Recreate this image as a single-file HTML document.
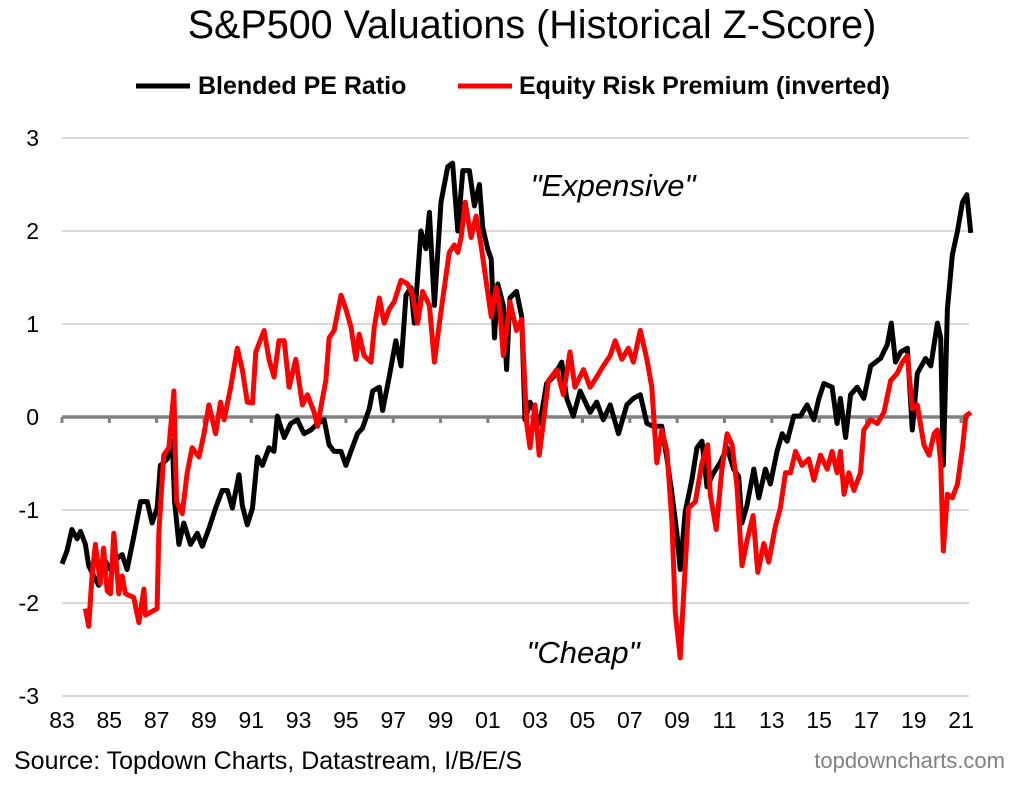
<!DOCTYPE html>
<html><head><meta charset="utf-8"><style>
body{margin:0;background:#fff;width:1020px;height:782px;overflow:hidden;font-family:"Liberation Sans",Arial,sans-serif}
svg text{font-family:"Liberation Sans",Arial,sans-serif}
</style></head><body>
<svg id="chart" width="1020" height="782">
<text x="532" y="38" text-anchor="middle" font-size="39.5" fill="#000">S&amp;P500 Valuations (Historical Z-Score)</text>
<g>
<g><line x1="136" y1="86" x2="190" y2="86" stroke="#000" stroke-width="5"/><text x="198" y="94" font-size="25" font-weight="bold">Blended PE Ratio</text></g>
<g><line x1="458" y1="86" x2="512" y2="86" stroke="#f00" stroke-width="5"/><text x="519" y="94" font-size="25" font-weight="bold">Equity Risk Premium (inverted)</text></g>
</g>
<g id="grid"></g><g id="axes"></g><g id="series"></g>
<text x="613" y="196" text-anchor="middle" font-size="31" font-style="italic">"Expensive"</text>
<text x="583" y="663" text-anchor="middle" font-size="31" font-style="italic">"Cheap"</text>
<text x="14" y="769" font-size="25">Source: Topdown Charts, Datastream, I/B/E/S</text>
<text x="1005" y="768" text-anchor="end" font-size="22" fill="#808080">topdowncharts.com</text>
</svg>
<script>
const yTicks=[3,2,1,0,-1,-2,-3];
const xTickLabels=["83","85","87","89","91","93","95","97","99","01","03","05","07","09","11","13","15","17","19","21"];
const xTickYears=[83,85,87,89,91,93,95,97,99,101,103,105,107,109,111,113,115,117,119,121];
const peYears=[83.00,83.21,83.42,83.64,83.78,83.99,84.13,84.34,84.55,84.76,85.05,85.33,85.54,85.75,86.03,86.32,86.60,86.81,87.02,87.16,87.45,87.66,87.76,87.94,88.15,88.43,88.72,88.93,89.21,89.49,89.77,89.99,90.20,90.48,90.62,90.83,91.05,91.26,91.47,91.75,91.96,92.10,92.39,92.67,92.95,93.23,93.52,93.80,94.08,94.29,94.50,94.79,95.00,95.21,95.49,95.70,95.99,96.13,96.41,96.55,96.83,97.11,97.33,97.54,97.75,97.89,98.17,98.38,98.53,98.74,99.02,99.30,99.51,99.73,99.94,100.22,100.43,100.64,100.78,100.99,101.14,101.28,101.42,101.65,101.79,101.93,102.21,102.43,102.57,102.78,102.99,103.20,103.48,103.77,104.12,104.33,104.61,104.90,105.32,105.60,105.88,106.17,106.52,106.87,107.15,107.44,107.72,108.00,108.35,108.57,108.78,108.99,109.13,109.34,109.62,109.84,110.05,110.26,110.54,110.82,111.11,111.39,111.60,111.74,111.95,112.24,112.45,112.73,112.94,113.22,113.44,113.65,113.93,114.21,114.49,114.78,114.99,115.20,115.55,115.76,115.90,116.12,116.33,116.61,116.89,117.18,117.60,117.88,118.05,118.23,118.45,118.73,118.94,119.15,119.50,119.72,120.00,120.14,120.25,120.42,120.63,120.85,121.06,121.24,121.41];
const peValues=[-1.58,-1.44,-1.21,-1.31,-1.23,-1.37,-1.6,-1.71,-1.81,-1.52,-1.64,-1.52,-1.48,-1.64,-1.29,-0.91,-0.91,-1.14,-0.98,-0.52,-0.45,-0.26,-0.91,-1.37,-1.14,-1.37,-1.25,-1.39,-1.2,-0.98,-0.79,-0.79,-0.98,-0.62,-0.95,-1.16,-0.98,-0.43,-0.52,-0.33,-0.37,0.01,-0.22,-0.07,-0.03,-0.18,-0.14,-0.07,-0.03,-0.3,-0.37,-0.37,-0.52,-0.37,-0.18,-0.12,0.09,0.28,0.32,0.07,0.43,0.82,0.55,1.31,1.39,1.01,2.0,1.81,2.2,1.2,2.31,2.69,2.73,2.0,2.65,2.65,2.27,2.5,2.04,1.81,1.7,0.85,1.43,1.2,0.51,1.28,1.35,1.08,-0.03,0.16,0.05,-0.07,0.36,0.43,0.59,0.2,0.01,0.28,0.05,0.16,-0.03,0.13,-0.18,0.13,0.2,0.24,-0.07,-0.1,-0.1,-0.45,-0.83,-1.25,-1.64,-1.02,-0.68,-0.33,-0.26,-0.75,-0.6,-0.49,-0.33,-0.56,-0.64,-1.14,-0.95,-0.56,-0.87,-0.56,-0.72,-0.37,-0.18,-0.26,0.01,0.01,0.13,-0.03,0.2,0.36,0.32,-0.07,0.2,-0.22,0.24,0.32,0.2,0.55,0.63,0.78,1.01,0.59,0.7,0.74,-0.14,0.47,0.63,0.55,1.01,0.85,-0.52,1.16,1.74,2.0,2.31,2.39,1.98];
const erpYears=[83.99,84.13,84.27,84.41,84.62,84.76,84.91,85.05,85.19,85.40,85.54,85.68,86.03,86.25,86.46,86.53,86.88,87.02,87.09,87.30,87.52,87.73,87.84,88.08,88.29,88.50,88.79,89.00,89.21,89.49,89.70,89.85,90.13,90.41,90.62,90.83,91.05,91.19,91.54,91.75,91.96,92.17,92.39,92.60,92.88,93.16,93.37,93.66,93.80,94.01,94.15,94.29,94.50,94.79,95.00,95.21,95.42,95.56,95.77,96.06,96.20,96.41,96.62,96.83,97.04,97.33,97.61,97.82,98.03,98.24,98.53,98.74,98.95,99.16,99.37,99.58,99.73,99.87,100.04,100.29,100.50,100.71,100.92,101.14,101.35,101.49,101.65,101.93,102.21,102.43,102.64,102.78,102.99,103.17,103.34,103.56,103.91,104.19,104.47,104.68,105.04,105.32,105.60,105.88,106.17,106.38,106.66,106.94,107.15,107.44,107.72,107.93,108.14,108.35,108.57,108.78,108.92,109.13,109.27,109.48,109.77,110.05,110.29,110.40,110.65,110.89,111.11,111.32,111.53,111.74,111.95,112.21,112.41,112.66,112.87,113.15,113.36,113.58,113.79,114.00,114.28,114.56,114.78,115.06,115.34,115.55,115.76,115.90,116.05,116.26,116.47,116.75,116.89,117.18,117.46,117.74,118.02,118.30,118.52,118.73,118.94,119.15,119.43,119.65,119.86,120.00,120.14,120.25,120.42,120.63,120.85,121.06,121.20,121.41];
const erpValues=[-2.06,-2.25,-1.71,-1.37,-1.79,-1.41,-1.87,-1.9,-1.25,-1.9,-1.71,-1.9,-1.94,-2.21,-1.85,-2.13,-2.08,-2.06,-1.25,-0.41,-0.33,0.28,-0.91,-1.04,-0.6,-0.33,-0.43,-0.18,0.13,-0.18,0.16,-0.03,0.32,0.74,0.51,0.16,0.15,0.7,0.93,0.62,0.43,0.82,0.82,0.32,0.62,0.13,0.24,0.05,-0.1,0.2,0.39,0.85,0.93,1.31,1.16,0.97,0.62,0.89,0.66,0.59,0.97,1.28,1.01,1.16,1.24,1.47,1.43,1.31,1.01,1.35,1.2,0.59,1.01,1.39,1.77,1.85,1.77,1.93,2.31,1.93,2.16,1.85,1.47,1.08,1.39,1.2,0.66,1.24,0.93,1.05,-0.07,-0.33,0.13,-0.41,-0.07,0.39,0.51,0.24,0.7,0.32,0.51,0.32,0.43,0.55,0.66,0.82,0.62,0.74,0.59,0.93,0.62,0.32,-0.49,-0.14,-0.37,-1.14,-2.1,-2.59,-1.94,-0.98,-0.91,-0.49,-0.3,-0.83,-1.21,-0.56,-0.18,-0.3,-0.75,-1.6,-1.33,-1.06,-1.67,-1.36,-1.56,-1.18,-0.98,-0.6,-0.6,-0.37,-0.52,-0.45,-0.68,-0.41,-0.56,-0.37,-0.6,-0.37,-0.83,-0.6,-0.79,-0.6,-0.14,-0.03,-0.07,0.05,0.39,0.47,0.59,0.66,0.09,0.13,-0.3,-0.41,-0.18,-0.14,-0.49,-1.44,-0.83,-0.87,-0.72,-0.33,0.01,0.05];

const NS="http://www.w3.org/2000/svg";
const X0=62,X1=969;
function xScale(yr){return X0+(yr-83)*23.66;}
function yScale(v){return 417-v*93;}
function mk(tag,attrs,parent){const e=document.createElementNS(NS,tag);for(const k in attrs)e.setAttribute(k,attrs[k]);parent.appendChild(e);return e;}
const grid=document.getElementById('grid'),axes=document.getElementById('axes'),series=document.getElementById('series');
yTicks.forEach(t=>{
  if(t!==0){const l=mk('line',{x1:X0,x2:X1,y1:yScale(t),y2:yScale(t),stroke:'#d9d9d9','stroke-width':2},grid);
  
  }
  const tx=mk('text',{x:39,y:yScale(t)+8,'text-anchor':'end','font-size':23},axes);
  tx.textContent=t;
  
  
});
const zl=mk('line',{x1:X0,x2:X1,y1:yScale(0),y2:yScale(0),stroke:'#808080','stroke-width':3.5},axes);


xTickYears.forEach((yr,i)=>{
  const tk=mk('line',{x1:xScale(yr),x2:xScale(yr),y1:yScale(0),y2:yScale(0)+6,stroke:'#808080','stroke-width':3},axes);
  
  
  const tx=mk('text',{x:xScale(yr),y:728,'text-anchor':'middle','font-size':23},axes);
  tx.textContent=xTickLabels[i];
  
  
});
function path(xs,vs,color,name){
  const d=xs.map((x,i)=>(i?'L':'M')+xScale(x).toFixed(1)+','+yScale(vs[i]).toFixed(1)).join('');
  const p=mk('path',{d:d,fill:'none',stroke:color,'stroke-width':5,'stroke-linejoin':'round'},series);
  
  
}
path(peYears,peValues,'#000','pe-ratio-line');
path(erpYears,erpValues,'#ff0000','erp-inverted-line');
</script>
</body></html>
